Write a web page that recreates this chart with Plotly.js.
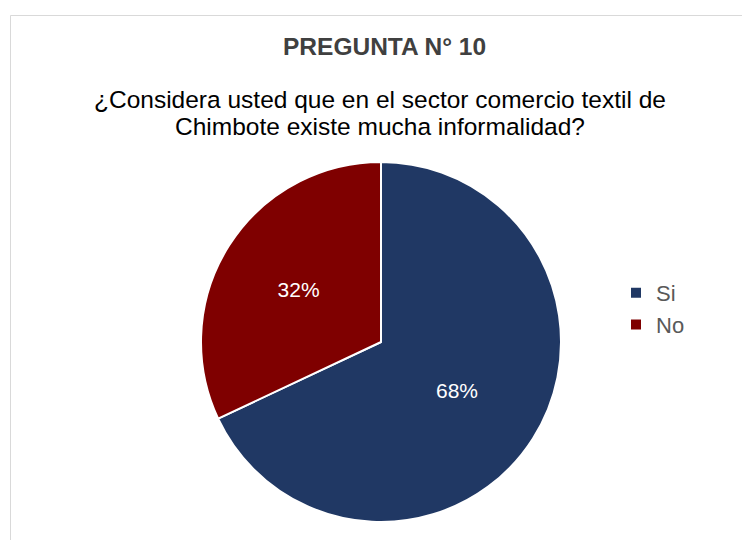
<!DOCTYPE html>
<html><head><meta charset="utf-8">
<script src="https://cdn.plot.ly/plotly-3.0.1.min.js"></script>
<style>html,body{margin:0;padding:0;background:#fff;}#chart{width:742px;height:540px;}</style>
</head><body><div id="chart"></div>
<script>
const categories = ["Si", "No"];
const values = [68, 32];
const colors = ["#203864", "#7f0000"];
const titleText = "PREGUNTA N° 10";
const subtitleLines = ["¿Considera usted que en el sector comercio textil de", "Chimbote existe mucha informalidad?"];

const W = 742, H = 540;
const FONT = "Liberation Sans, Arial, sans-serif";
const data = [{
  type: "pie",
  labels: categories,
  values: values,
  marker: {colors: colors, line: {color: "#ffffff", width: 2}},
  sort: false,
  direction: "clockwise",
  rotation: 0,
  texttemplate: "%{percent:.0%}",
  textposition: "inside",
  insidetextorientation: "horizontal",
  textfont: {family: FONT, size: 21, color: "#ffffff"},
  hoverinfo: "label+percent",
  domain: {x: [201/W, 561/W], y: [18/H, 378/H]}
}];
const layout = {
  width: W, height: H,
  margin: {l: 0, r: 0, t: 0, b: 0},
  paper_bgcolor: "#ffffff",
  font: {family: FONT, color: "#404040"},
  showlegend: true,
  legend: {x: 616/W, y: 1 - 272/H, xanchor: "left", yanchor: "top",
           font: {size: 22, color: "#595959", family: FONT}, bgcolor: "rgba(0,0,0,0)", itemwidth: 30},
  shapes: [{type: "rect", xref: "paper", yref: "paper",
            x0: 10.5/W, x1: 1.05, y0: -0.05, y1: 1 - 15.5/H,
            line: {color: "#d9d9d9", width: 1}, fillcolor: "rgba(0,0,0,0)", layer: "below"}],
  annotations: [
    {text: "<b>" + titleText + "</b>", xref: "paper", yref: "paper", x: 384/W, y: 1 - 47/H,
     xanchor: "center", yanchor: "middle", showarrow: false,
     font: {size: 24.5, color: "#404040", family: FONT}},
    {text: subtitleLines[0], xref: "paper", yref: "paper", x: 380/W, y: 1 - 100/H,
     xanchor: "center", yanchor: "middle", showarrow: false,
     font: {size: 24.5, color: "#000000", family: FONT}},
    {text: subtitleLines[1], xref: "paper", yref: "paper", x: 380/W, y: 1 - 126/H,
     xanchor: "center", yanchor: "middle", showarrow: false,
     font: {size: 24.5, color: "#000000", family: FONT}}
  ]
};
Plotly.newPlot("chart", data, layout, {displayModeBar: false, staticPlot: true});
</script></body></html>
